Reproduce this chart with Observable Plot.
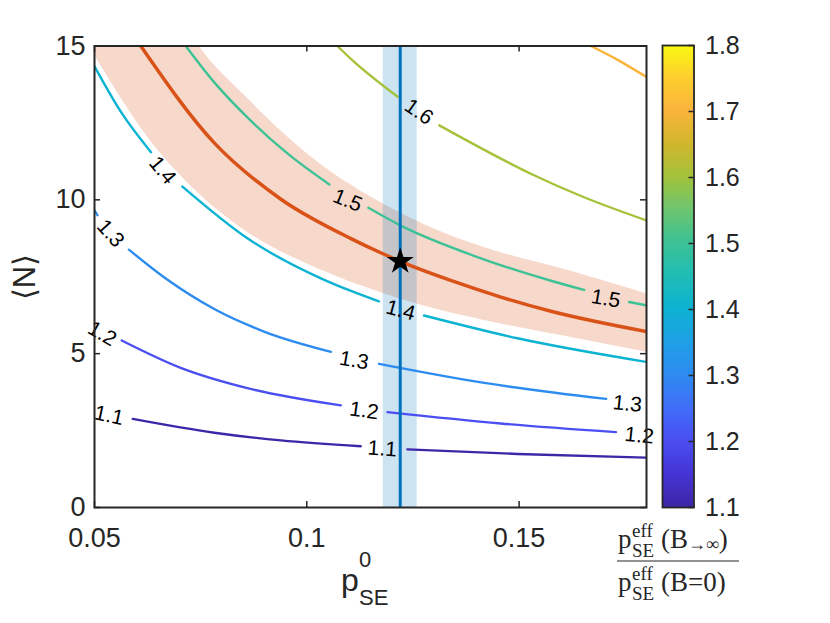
<!DOCTYPE html>
<html><head><meta charset="utf-8">
<script src="https://cdn.jsdelivr.net/npm/d3@7"></script>
<script src="https://cdn.jsdelivr.net/npm/@observablehq/plot@0.6"></script>
<style>
body{margin:0;background:#fff;}
#wrap{position:relative;width:830px;height:623px;overflow:hidden;font-family:"Liberation Sans",Arial,sans-serif;}
#wrap svg{position:absolute;left:0;top:0;}
</style></head><body><div id="wrap"></div>
<script>
// ---- data ----
const xTicks = [0.05, 0.1, 0.15];
const yTicks = [0, 5, 10, 15];
const cbTicks = [1.1, 1.2, 1.3, 1.4, 1.5, 1.6, 1.7, 1.8];

// contour lines [p, N]; null N = gap where the label sits
const c11 = [[0.059,2.88],[0.0782,2.43],[0.0939,2.18],[0.1127,1.99],[0.118,null],[0.1237,1.89],[0.1496,1.74],[0.18,1.62]];
const c12 = [[0.0564,5.43],[0.0703,4.54],[0.086,3.88],[0.108,3.32],[0.113,null],[0.119,3.10],[0.1457,2.73],[0.1728,2.45]];
const c13 = [[0.05,9.65],[0.0507,9.5],[0.054,null],[0.0581,8.38],[0.0672,7.40],[0.0782,6.45],[0.0899,5.72],[0.1057,5.06],[0.111,null],[0.117,4.67],[0.1418,4.05],[0.1705,3.53]];
const c14 = [[0.05,14.34],[0.0565,12.8],[0.0633,11.55],[0.067,null],[0.0707,10.43],[0.086,8.75],[0.1033,7.45],[0.1104,7.04],[0.117,6.70],[0.122,null],[0.1276,6.24],[0.1496,5.5],[0.18,4.73]];
const c15 = [[0.0715,15],[0.078,13.85],[0.086,12.68],[0.0955,11.5],[0.1053,10.5],[0.11,null],[0.1145,9.74],[0.122,9.17],[0.14,8.15],[0.1575,7.37],[0.1653,7.07],[0.17,null],[0.1759,6.68],[0.18,6.57]];
const c16 = [[0.1072,15],[0.1107,14.54],[0.1214,13.35],[0.126,null],[0.1312,12.42],[0.1535,10.8],[0.165,10.1],[0.18,9.33]];
const c17 = [[0.1669,15],[0.1732,14.55],[0.18,13.99]];
const contourSets = [[1.1,c11],[1.2,c12],[1.3,c13],[1.4,c14],[1.5,c15],[1.6,c16],[1.7,c17]];

// estimated (red) contour and its uncertainty band
const redLine = [[0.0609,15],[0.0782,11.85],[0.0939,10.02],[0.1104,8.74],[0.1174,8.28],[0.122,8.0],[0.1339,7.38],[0.1457,6.84],[0.1575,6.38],[0.18,5.72]];
const bandP  = [0.05, 0.0633, 0.0746, 0.086, 0.1033, 0.1182, 0.1276, 0.1418, 0.1614, 0.18];
const bandLo = [14.7, 11.9, 10.2, 8.95, 7.72, 6.95, 6.55, 6.08, 5.55, 5.05];
const bandHi = [22.4, 17.7, 15, 13.3, 11.15, 9.85, 9.2, 8.45, 7.71, 6.95];

// measured p0_SE with its uncertainty, and the star point
const pStar = 0.122, NStar = 8.0;
const pBand = [0.118, 0.126];

// inline contour labels
const labelLevel = [1.1, 1.1, 1.2, 1.2, 1.2, 1.3, 1.3, 1.3, 1.4, 1.4, 1.5, 1.5, 1.6];
const labelP     = [0.0534, 0.1178, 0.0518, 0.1135, 0.1783, 0.0538, 0.1111, 0.1755, 0.066, 0.1221, 0.1096, 0.1704, 0.1264];
const labelN     = [2.99, 1.91, 5.65, 3.15, 2.34, 8.91, 4.78, 3.37, 10.96, 6.41, 9.98, 6.79, 12.86];
const labelAngle = [12, 4, 30, 8, 6, 48, 10, 6, 50, 15, 22, 10, 35];

// parula-like colour map stops
const parulaValues = [1.1,1.15,1.2,1.25,1.3,1.35,1.4,1.45,1.5,1.55,1.6,1.65,1.7,1.75,1.8];
const parulaColors = ["#3e26a8","#4535d6","#4a4ff2","#3f6ff8","#2d8cf0","#1fa0e5","#0cb3d2","#20bdb4","#3ec295","#6ec56d","#a5c23a","#d2b62c","#fbb43c","#fdd02e","#f9fb0e"];

// ---- build ----
const contourRows = contourSets.flatMap(([level, pts]) => pts.map(([p, N]) => ({level, p, N})));
const redRows = redLine.map(([p, N]) => ({p, N}));
const bandRows = bandP.map((p, i) => ({p, lo: bandLo[i], hi: bandHi[i]}));
const labelRows = labelLevel.map((level, i) => ({level, p: labelP[i], N: labelN[i], angle: labelAngle[i]}));
const colorScale = {type: "linear", domain: parulaValues, range: parulaColors};

const W = 830, H = 623;
const mL = 94, mR = 184, mT = 45.5, mB = 116;
const fW = W - mL - mR, fH = H - mT - mB;
const ink = "#262626";
const font = "'Liberation Sans', Arial, Helvetica, sans-serif";

const main = Plot.plot({
  width: W, height: H, marginLeft: mL, marginRight: mR, marginTop: mT, marginBottom: mB,
  x: {domain: [0.05, 0.18]},
  y: {domain: [0, 15]},
  color: colorScale,
  style: {fontFamily: font, fontSize: "28px", color: ink, background: "transparent"},
  marks: [
    Plot.areaY(bandRows, {x: "p", y1: "lo", y2: "hi", fill: "#d95319", fillOpacity: 0.22, curve: "monotone-x", clip: true}),
    Plot.rect([pBand], {x1: d => d[0], x2: d => d[1], fill: "#0072bd", fillOpacity: 0.2}),
    Plot.line(contourRows, {x: "p", y: "N", z: "level", stroke: "level", strokeWidth: 2.4, curve: "monotone-x", clip: true}),
    Plot.line(redRows, {x: "p", y: "N", stroke: "#d95319", strokeWidth: 3.5, curve: "monotone-x", clip: true}),
    Plot.ruleX([pStar], {stroke: "#0072bd", strokeWidth: 3}),
    Plot.dot([[pStar, NStar]], {x: d => d[0], y: d => d[1], symbol: "star", r: 8.5, fill: "black"}),
    Plot.text(labelRows, {x: "p", y: "N", text: d => d.level.toFixed(1), rotate: "angle", fontSize: 21, fill: "black"}),
    Plot.frame({stroke: ink, strokeWidth: 2}),
    Plot.tickX(xTicks, {x: d => d, insetTop: fH - 6, stroke: ink, strokeWidth: 1.5}),
    Plot.tickX(xTicks, {x: d => d, insetBottom: fH - 6, stroke: ink, strokeWidth: 1.5}),
    Plot.tickY(yTicks, {y: d => d, insetRight: fW - 6, stroke: ink, strokeWidth: 1.5}),
    Plot.tickY(yTicks, {y: d => d, insetLeft: fW - 6, stroke: ink, strokeWidth: 1.5}),
    Plot.axisX(xTicks, {tickSize: 0, tickPadding: 20, fontSize: 27, tickFormat: d => String(d), label: null}),
    Plot.axisY(yTicks, {tickSize: 0, tickPadding: 9, fontSize: 27, label: null})
  ]
});

const cbL = 662, cbR = 693.5;
const step = 0.005;
const cbSteps = d3.range(1.1, 1.8, step);
const cbar = Plot.plot({
  width: W, height: H, marginLeft: cbL, marginRight: W - cbR, marginTop: 45, marginBottom: 116,
  y: {domain: [1.1, 1.8]},
  color: colorScale,
  style: {fontFamily: font, fontSize: "25px", color: ink, background: "transparent"},
  marks: [
    Plot.rect(cbSteps, {y1: d => d, y2: d => Math.min(d + step * 1.4, 1.8), fill: d => d}),
    Plot.frame({stroke: ink, strokeWidth: 1.8}),
    Plot.tickY(cbTicks, {y: d => d, insetLeft: (cbR - cbL) - 5, stroke: ink, strokeWidth: 1.5}),
    Plot.axisY(cbTicks, {anchor: "right", tickSize: 0, tickPadding: 11, fontSize: 25, tickFormat: d => d.toFixed(1), label: null})
  ]
});

const wrap = document.getElementById("wrap");
wrap.appendChild(main);
wrap.appendChild(cbar);

// axis titles and colour-bar title as real text
const ov = d3.select(wrap).append("svg").attr("width", W).attr("height", H).style("overflow", "visible");
ov.append("text").attr("transform", "translate(24,277) rotate(-90)")
  .attr("text-anchor", "middle").attr("dominant-baseline", "central")
  .attr("font-family", font).attr("font-size", 31).attr("fill", ink).text("⟨N⟩");

const xl = ov.append("text").attr("x", 341).attr("y", 591).attr("font-family", font).attr("font-size", 32).attr("fill", ink);
xl.append("tspan").text("p");
xl.append("tspan").attr("x", 359).attr("y", 567).attr("font-size", 22).text("0");
xl.append("tspan").attr("x", 359).attr("y", 605).attr("font-size", 22).text("SE");

const serif = "'Liberation Serif', 'DejaVu Serif', serif";
function pse(y, tail, tailSub) {
  const t = ov.append("text").attr("x", 618).attr("y", y).attr("font-family", serif).attr("font-size", 27).attr("fill", ink);
  t.append("tspan").text("p");
  t.append("tspan").attr("x", 632).attr("y", y - 11).attr("font-size", 19).text("eff");
  t.append("tspan").attr("x", 632).attr("y", y + 9).attr("font-size", 19).text("SE");
  t.append("tspan").attr("x", 661).attr("y", y).text("(B");
  if (tailSub) {
    t.append("tspan").attr("y", y + 2).attr("font-size", 18).text(tailSub);
    t.append("tspan").attr("y", y).text(")");
  } else {
    t.append("tspan").text(tail);
  }
}
pse(548, null, "→∞");
ov.append("line").attr("x1", 617).attr("x2", 739).attr("y1", 561).attr("y2", 561).attr("stroke", ink).attr("stroke-width", 1.2);
pse(591, "=0)", null);
</script>
</body></html>
